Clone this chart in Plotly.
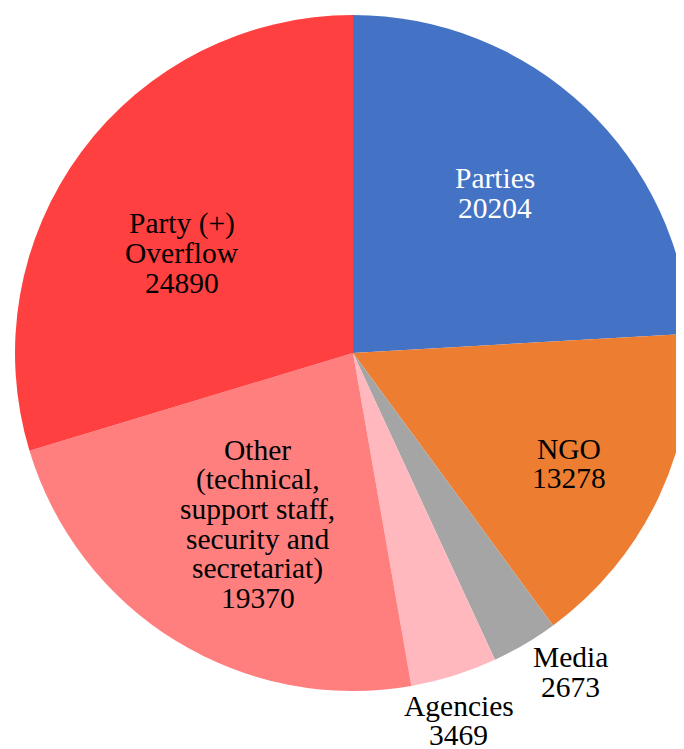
import math
import plotly.graph_objects as go

labels = ["Parties", "NGO", "Media", "Agencies",
          "Other<br>(technical,<br>support staff,<br>security and<br>secretariat)",
          "Party (+)<br>Overflow"]
values = [20204, 13278, 2673, 3469, 19370, 24890]
colors = ["#4472C4", "#ED7D31", "#A5A5A5", "#FFB9BE", "#FF7F7F", "#FF4040"]
text_colors = ["white", "black", "black", "black", "black", "black"]
# label placement: fraction of pie radius and angular nudge (degrees) from slice mid-angle
label_radius = [0.633, 0.718, 1.142, 1.132, 0.579, 0.586]
label_nudge = [-1.8, 1.9, -3.75, 1.35, -2.55, -6.3]

W, H = 684, 749
dom_x = [7 / W, 683 / W]
dom_y = [1 - 683 / H, 1 - 7 / H]
FONT = "Liberation Serif, Times New Roman, serif"
FSIZE = 29.5
LINE = 29.5

fig = go.Figure(go.Pie(
    labels=labels,
    values=values,
    sort=False,
    direction="clockwise",
    rotation=0,
    marker=dict(colors=colors, line=dict(width=0)),
    textinfo="none",
    hoverinfo="label+value",
    showlegend=False,
    domain=dict(x=dom_x, y=dom_y),
))

# pie geometry in pixel coordinates (margins are zero)
cx_px = (dom_x[0] + dom_x[1]) / 2 * W
cy_px = (1 - (dom_y[0] + dom_y[1]) / 2) * H
r_px = min((dom_x[1] - dom_x[0]) * W, (dom_y[1] - dom_y[0]) * H) / 2

total = sum(values)
cum = 0
for lab, val, tc, fr, nd in zip(labels, values, text_colors, label_radius, label_nudge):
    mid = (cum + val / 2) / total * 2 * math.pi + math.radians(nd)
    cum += val
    px = cx_px + fr * r_px * math.sin(mid)
    py = cy_px - fr * r_px * math.cos(mid)
    lines = lab.split("<br>") + [f"{val:d}"]
    n = len(lines)
    for i, ln in enumerate(lines):
        ly = py + (i - (n - 1) / 2) * LINE
        fig.add_annotation(
            x=px / W, y=1 - ly / H, xref="paper", yref="paper",
            text=ln, showarrow=False,
            xanchor="center", yanchor="middle", align="center",
            font=dict(family=FONT, size=FSIZE, color=tc),
        )

fig.update_layout(
    width=W, height=H,
    margin=dict(l=0, r=0, t=0, b=0),
    paper_bgcolor="white",
    plot_bgcolor="white",
)
fig.write_html("out.html")
